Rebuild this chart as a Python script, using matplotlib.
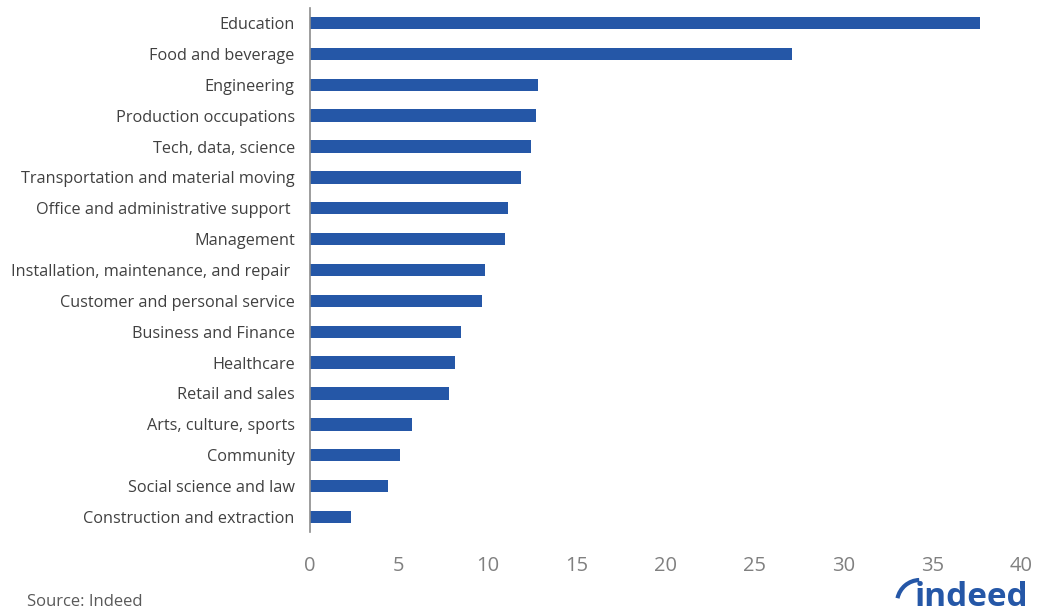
import matplotlib
matplotlib.use("Agg")
import matplotlib.pyplot as plt
from matplotlib.patches import Arc

plt.rcParams['font.family'] = ['Open Sans', 'DejaVu Sans']

categories = [
    "Education",
    "Food and beverage",
    "Engineering",
    "Production occupations",
    "Tech, data, science",
    "Transportation and material moving",
    "Office and administrative support ",
    "Management",
    "Installation, maintenance, and repair ",
    "Customer and personal service",
    "Business and Finance",
    "Healthcare",
    "Retail and sales",
    "Arts, culture, sports",
    "Community",
    "Social science and law",
    "Construction and extraction",
]
values = [37.7, 27.1, 12.8, 12.7, 12.45, 11.87, 11.14, 10.97, 9.85, 9.68,
          8.48, 8.15, 7.8, 5.76, 5.05, 4.37, 2.33]
x_ticks = [0, 5, 10, 15, 20, 25, 30, 35, 40]

BLUE = "#2557a7"

fig = plt.figure(figsize=(10.37, 6.15), dpi=100)
ax = fig.add_axes([0.299, 0.1343, 0.6857, 0.8533])

y = list(range(len(categories)))
ax.barh(y, values, height=0.4, color=BLUE)
ax.set_yticks(y)
ax.set_yticklabels(categories, fontsize=11.7, color="#404040")
ax.set_ylim(len(categories) - 0.5, -0.5)
ax.set_xlim(0, 40)
ax.set_xticks(x_ticks)
ax.set_xticklabels([str(t) for t in x_ticks], fontsize=14.5, color="#808080")
ax.tick_params(axis="y", length=0, pad=11)
ax.tick_params(axis="x", length=0, pad=17)

for side in ("top", "right", "bottom"):
    ax.spines[side].set_visible(False)
ax.spines["left"].set_color("#8c8c8c")
ax.spines["left"].set_linewidth(1.2)

fig.text(0.026, 0.008, "Source: Indeed", fontsize=12, color="#595959",
         ha="left", va="bottom")

# brand mark in the lower right corner, drawn in pixel units
logo_ax = fig.add_axes([880 / 1037, 0.0, 157 / 1037, 45 / 615])
logo_ax.set_xlim(880, 1037)
logo_ax.set_ylim(615, 570)
logo_ax.axis("off")
logo_ax.text(1028, 614, "indeed", fontsize=24, fontweight="bold", color=BLUE,
             ha="right", va="bottom")
logo_ax.add_patch(Arc((920, 603), 46, 46, theta1=192, theta2=268,
                      color=BLUE, lw=3))

fig.savefig("out.png", dpi=100, facecolor="white")
